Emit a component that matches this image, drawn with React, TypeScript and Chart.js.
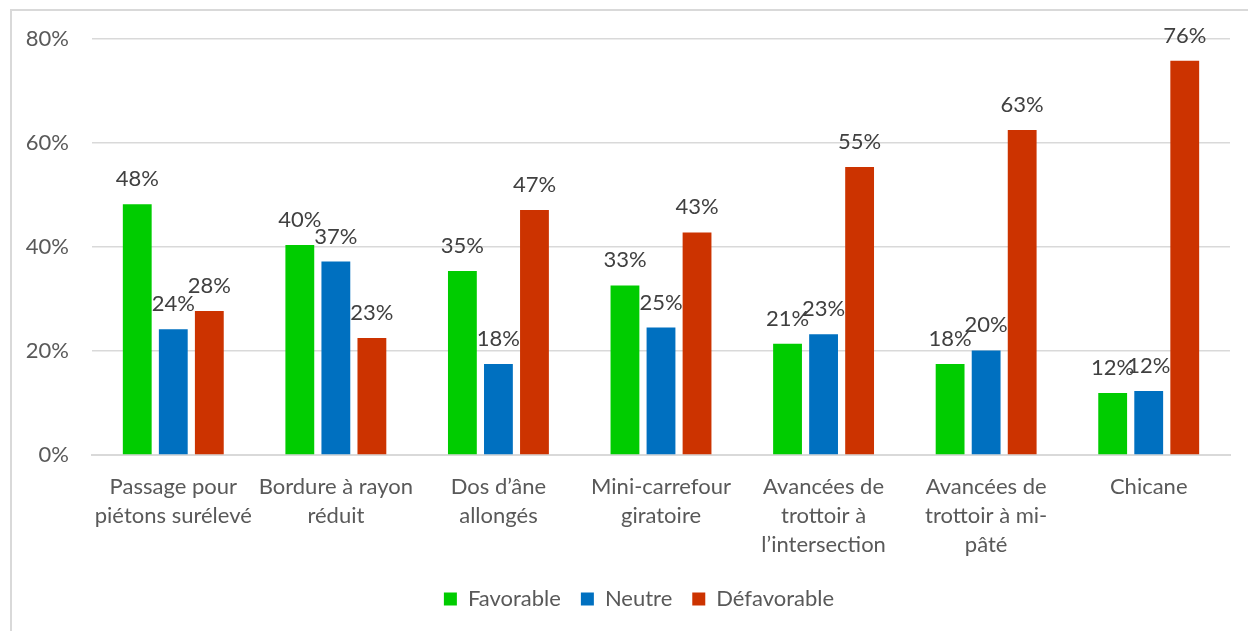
import React, { useEffect, useRef } from "react";
import { Chart, registerables } from "chart.js";

Chart.register(...registerables);

const categories: string[][] = [
  ["Passage pour", "piétons surélevé"],
  ["Bordure à rayon", "réduit"],
  ["Dos d’âne", "allongés"],
  ["Mini-carrefour", "giratoire"],
  ["Avancées de", "trottoir à", "l’intersection"],
  ["Avancées de", "trottoir à mi-", "pâté"],
  ["Chicane"],
];

const favorable = [48.2, 40.4, 35.4, 32.6, 21.4, 17.5, 11.9];
const neutre = [24.2, 37.2, 17.5, 24.5, 23.2, 20.1, 12.3];
const defavorable = [27.7, 22.5, 47.1, 42.8, 55.4, 62.5, 75.8];

const seriesNames = ["Favorable", "Neutre", "Défavorable"];
const seriesColors = ["#00CC00", "#0070C0", "#CC3300"];

const FONT = "Lato, 'Open Sans', sans-serif";

const valueLabels = {
  id: "valueLabels",
  afterLayout(chart: any) {
    if (chart.legend) {
      chart.legend.left += 36;
    }
  },
  afterDatasetsDraw(chart: any) {
    const ctx = chart.ctx;
    ctx.save();
    ctx.font = `22px ${FONT}`;
    ctx.fillStyle = "#404040";
    ctx.textAlign = "center";
    ctx.textBaseline = "alphabetic";
    chart.data.datasets.forEach((ds: any, i: number) => {
      const meta = chart.getDatasetMeta(i);
      meta.data.forEach((el: any, j: number) => {
        const v = ds.data[j];
        ctx.fillText(Math.round(v) + "%", el.x, el.y - 18);
      });
    });
    ctx.restore();
  },
};

export default function App() {
  const ref = useRef<HTMLCanvasElement | null>(null);
  useEffect(() => {
    if (!ref.current) return;
    const data = [favorable, neutre, defavorable];
    const chart = new Chart(ref.current, {
      type: "bar",
      data: {
        labels: categories,
        datasets: seriesNames.map((name, i) => ({
          label: name,
          data: data[i],
          backgroundColor: seriesColors[i],
          borderWidth: 0,
          categoryPercentage: 0.665,
          barPercentage: 0.8,
        })),
      },
      options: {
        animation: false,
        responsive: false,
        maintainAspectRatio: false,
        layout: { padding: { top: 28, bottom: 11, left: 0, right: 18 } },
        plugins: {
          legend: {
            position: "bottom",
            labels: {
              font: { family: FONT, size: 22 },
              color: "#595959",
              boxWidth: 13,
              boxHeight: 13,
              padding: 20,
            },
          },
          tooltip: { enabled: false },
        },
        scales: {
          x: {
            grid: { display: false },
            border: { color: "#d9d9d9", width: 2 },
            ticks: {
              font: { family: FONT, size: 22, lineHeight: 1.32 },
              color: "#595959",
              padding: 9,
              maxRotation: 0,
              autoSkip: false,
            },
            afterFit: (s: any) => {
              s.height = 113;
            },
          },
          y: {
            min: 0,
            max: 80,
            border: { display: false },
            grid: { color: "#d9d9d9", lineWidth: 1.5, drawTicks: false },
            ticks: {
              stepSize: 20,
              padding: 23,
              font: { family: FONT, size: 22 },
              color: "#595959",
              callback: (v: any) => v + "%",
            },
            afterFit: (s: any) => {
              s.width = 80;
              s.paddingTop = 0;
              s.paddingBottom = 0;
            },
          },
        },
      },
      plugins: [valueLabels],
    });
    return () => chart.destroy();
  }, []);
  return (
    <div
      style={{
        position: "absolute",
        left: 10,
        top: 9,
        width: 1238,
        height: 622,
        boxSizing: "border-box",
        borderLeft: "2px solid #d9d9d9",
        borderTop: "2px solid #d9d9d9",
        background: "#fff",
        overflow: "hidden",
      }}
    >
      <canvas ref={ref} width={1236} height={620} style={{ display: "block" }} />
    </div>
  );
}
